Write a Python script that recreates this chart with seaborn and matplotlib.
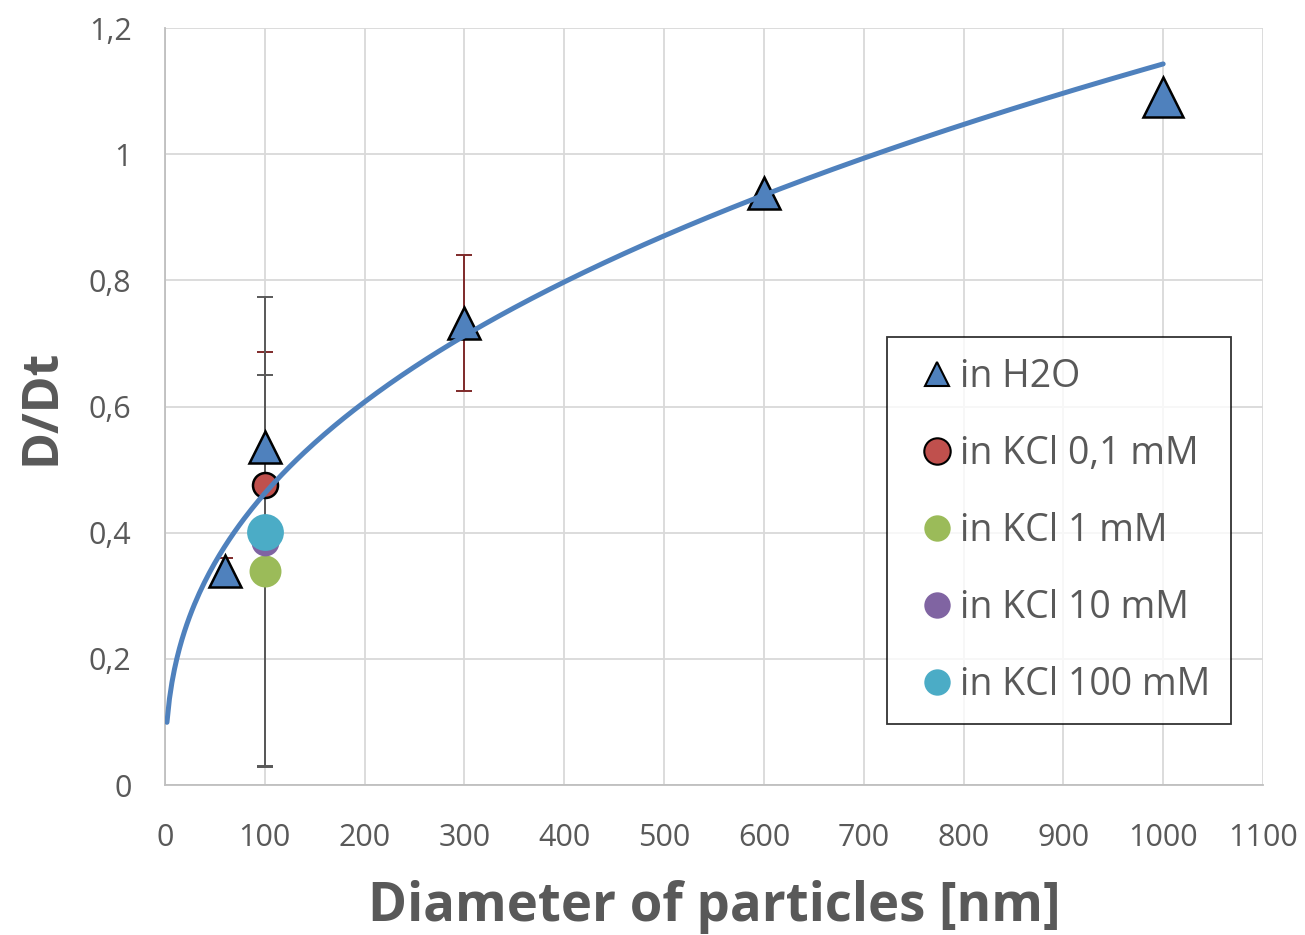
import numpy as np
import pandas as pd
import matplotlib
matplotlib.use("Agg")
import matplotlib.pyplot as plt
import seaborn as sns
from matplotlib.lines import Line2D

# ---- data ----
h2o_x = [60, 100, 300, 600, 1000]
h2o_y = [0.34, 0.536, 0.732, 0.938, 1.09]
h2o_err = [0.02, 0.15, 0.108, 0.0, 0.0]

kcl_labels = ["in KCl 0,1 mM", "in KCl 1 mM", "in KCl 10 mM", "in KCl 100 mM"]
kcl_x = [100, 100, 100, 100]
kcl_y = [0.475, 0.34, 0.385, 0.401]
kcl_err = [0.0, 0.31, 0.0, 0.373]

# power trend line y = a * x^b
fit_a = 0.0757
fit_b = 0.393
fit_xmin, fit_xmax = 2, 1000

x_ticks = [0, 100, 200, 300, 400, 500, 600, 700, 800, 900, 1000, 1100]
y_ticks = [0, 0.2, 0.4, 0.6, 0.8, 1.0, 1.2]
y_tick_labels = ["0", "0,2", "0,4", "0,6", "0,8", "1", "1,2"]

# ---- style ----
sns.set_style("white")
plt.rcParams['font.family'] = ['Open Sans', 'DejaVu Sans']
txt = "#595959"
grid_c = "#d9d9d9"
blue = "#4f81bd"
err_red = "#7f2a2a"
err_gray = "#595959"
kcl_colors = ["#c0504d", "#9bbb59", "#8064a2", "#4bacc6"]
kcl_ms = [18, 23, 20, 26.5]
kcl_edges = ["black", "none", "none", "none"]
h2o_ms = [23, 23, 23, 23, 29]

fig = plt.figure(figsize=(13.05, 9.35), dpi=100)
ax = fig.add_axes([0.1264, 0.1604, 0.8414, 0.8096])

# error bars
for x, y, e in zip(h2o_x, h2o_y, h2o_err):
    if e > 0:
        ax.errorbar([x], [y], yerr=[e], fmt="none", ecolor=err_red,
                    elinewidth=1.4, capsize=6, capthick=1.4, zorder=2)
for x, y, e in zip(kcl_x, kcl_y, kcl_err):
    if e > 0:
        ax.errorbar([x], [y], yerr=[e], fmt="none", ecolor=err_gray,
                    elinewidth=1.4, capsize=6, capthick=1.4, zorder=2)

# KCl points
for lab, x, y, c, s, ed in zip(kcl_labels, kcl_x, kcl_y, kcl_colors, kcl_ms, kcl_edges):
    ax.plot([x], [y], marker="o", linestyle="none", markersize=s,
            markerfacecolor=c, markeredgecolor=ed, markeredgewidth=1.8, zorder=4)

# H2O points
for x, y, s in zip(h2o_x, h2o_y, h2o_ms):
    ax.plot([x], [y], marker="^", linestyle="none", markersize=s,
            markerfacecolor=blue, markeredgecolor="black", markeredgewidth=1.8, zorder=5)

# trend line
fx = np.linspace(fit_xmin, fit_xmax, 400)
fit_df = pd.DataFrame({"x": fx, "y": fit_a * fx ** fit_b})
sns.lineplot(data=fit_df, x="x", y="y", ax=ax, color=blue, linewidth=3.6,
             zorder=6, legend=False, solid_capstyle="round")

# axes
ax.set_xlim(0, 1100)
ax.set_ylim(0, 1.2)
ax.set_xticks(x_ticks)
ax.set_yticks(y_ticks)
ax.set_yticklabels(y_tick_labels)
ax.tick_params(axis="both", labelsize=22, colors=txt, length=0)
ax.tick_params(axis="x", pad=27)
ax.tick_params(axis="y", pad=24)
ax.grid(True, color=grid_c, linewidth=1.3)
ax.set_axisbelow(True)
for sp in ax.spines.values():
    sp.set_visible(False)
for side in ("left", "bottom"):
    ax.spines[side].set_visible(True)
    ax.spines[side].set_color("#bfbfbf")
    ax.spines[side].set_linewidth(1.3)

ax.set_xlabel("Diameter of particles [nm]", fontsize=38, fontweight="bold", color=txt, labelpad=20)
ax.set_ylabel("D/Dt", fontsize=36, fontweight="bold", color=txt, labelpad=16)

# legend
handles = [Line2D([], [], marker="^", linestyle="none", markersize=17,
                  markerfacecolor=blue, markeredgecolor="black", markeredgewidth=1.5)]
for c, ed in zip(kcl_colors, kcl_edges):
    handles.append(Line2D([], [], marker="o", linestyle="none", markersize=19,
                          markerfacecolor=c, markeredgecolor=ed, markeredgewidth=1.5))
labels = ["in H2O"] + kcl_labels
leg = ax.legend(handles, labels, loc="upper left", bbox_to_anchor=(0.6576, 0.5918),
                fontsize=27, frameon=True, fancybox=False, edgecolor="black",
                labelspacing=1.04, handletextpad=-0.17, borderpad=0.55, handlelength=1.57,
                borderaxespad=0)
leg.get_frame().set_linewidth(1.3)
for t in leg.get_texts():
    t.set_color(txt)

fig.savefig("out.png", dpi=100)
